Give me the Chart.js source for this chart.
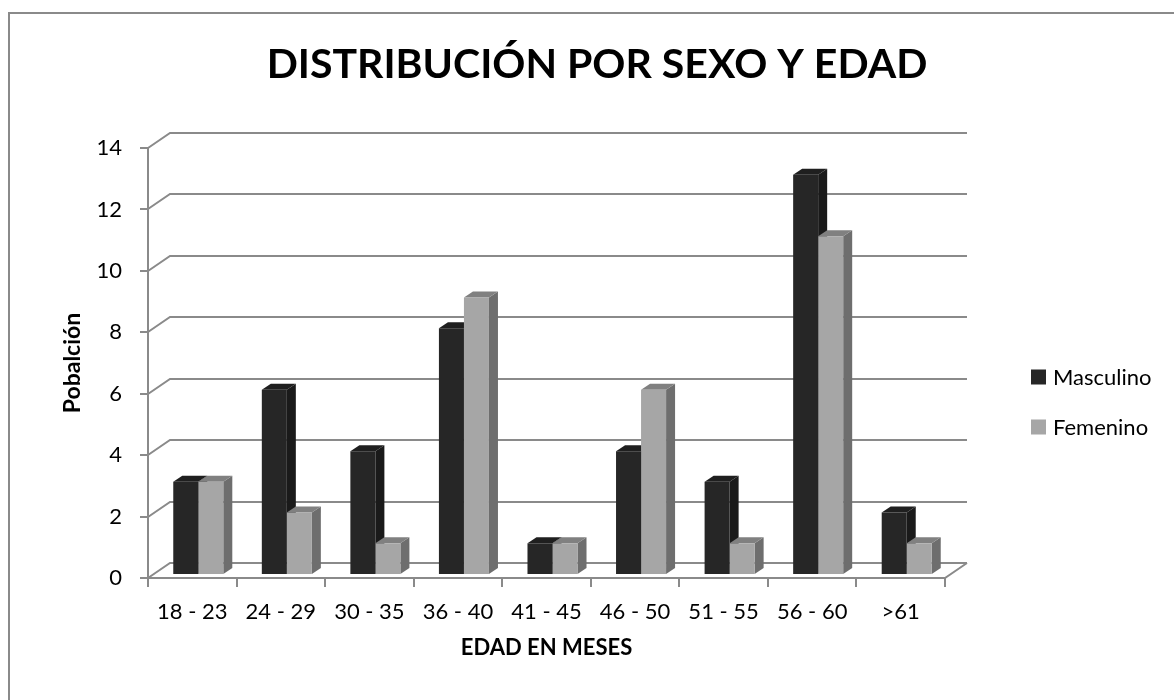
<!DOCTYPE html>
<html>
<head>
<meta charset="utf-8">
<script src="https://cdn.jsdelivr.net/npm/chart.js@4/dist/chart.umd.min.js"></script>
<style>
  html, body { margin: 0; padding: 0; background: #fff; }
  #wrap { width: 1174px; height: 700px; }
</style>
</head>
<body>
<div id="wrap"><canvas id="sexoChart" width="1174" height="700"></canvas></div>
<script>
const categories = ['18 - 23', '24 - 29', '30 - 35', '36 - 40', '41 - 45', '46 - 50', '51 - 55', '56 - 60', '>61'];
const masculino = [3, 6, 4, 8, 1, 4, 3, 13, 2];
const femenino = [3, 2, 1, 9, 1, 6, 1, 11, 1];
const seriesNames = ['Masculino', 'Femenino'];
const yMin = 0, yMax = 14, yStep = 2;

const chartTitle = 'DISTRIBUCIÓN POR SEXO Y EDAD';
const yTitle = 'Pobalción';
const xTitle = 'EDAD EN MESES';

const frontColors = ['#262626', '#a6a6a6'];
const sideColors = ['#1a1a1a', '#6e6e6e'];
const topColors = ['#1f1f1f', '#808080'];
const gridColor = '#8a8a8a';

// 3d look: back wall offset and bar depth
const wallDx = 22, wallDy = -15;
const barShiftX = 6, barShiftY = -4;
const barDx = 9, barDy = -6;

let threeD = {
    id: 'threeD',
    beforeDraw(chart) {
        let ctx = chart.ctx;
        ctx.save();
        ctx.strokeStyle = gridColor;
        ctx.lineWidth = 2;
        ctx.strokeRect(9, 13, 1300, 900);
        ctx.restore();
    },
    beforeDatasetsDraw(chart) {
        let ctx = chart.ctx;
        let area = chart.chartArea;
        let y = chart.scales.y;
        ctx.save();
        ctx.strokeStyle = gridColor;
        ctx.lineWidth = 2;
        ctx.lineCap = 'butt';
        ctx.beginPath();
        for (let v = yMin; v <= yMax; v += yStep) {
            let py = Math.round(y.getPixelForValue(v));
            // back wall line + diagonal on side
            ctx.moveTo(area.left, py);
            ctx.lineTo(area.left + wallDx, py + wallDy);
            ctx.lineTo(area.right + wallDx, py + wallDy);
            // tick mark
            ctx.moveTo(area.left - 8, py);
            ctx.lineTo(area.left, py);
        }
        // front y axis
        ctx.moveTo(area.left, area.top);
        ctx.lineTo(area.left, area.bottom);
        // floor
        ctx.moveTo(area.left, area.bottom);
        ctx.lineTo(area.right, area.bottom);
        ctx.lineTo(area.right + wallDx, area.bottom + wallDy);
        // category ticks
        let step = (area.right - area.left) / categories.length;
        for (let i = 0; i <= categories.length; i++) {
            let px = Math.round(area.left + i * step);
            ctx.moveTo(px, area.bottom);
            ctx.lineTo(px, area.bottom + 9);
        }
        ctx.stroke();

        // side and top faces of the bars, fronts come after
        chart.data.datasets.forEach((ds, di) => {
            let meta = chart.getDatasetMeta(di);
            meta.data.forEach(bar => {
                let p = bar.getProps(['x', 'y', 'base', 'width'], true);
                let l = p.x - p.width / 2 + barShiftX;
                let r = p.x + p.width / 2 + barShiftX;
                let t = p.y + barShiftY;
                let b = p.base + barShiftY;
                ctx.fillStyle = sideColors[di];
                ctx.beginPath();
                ctx.moveTo(r, t);
                ctx.lineTo(r + barDx, t + barDy);
                ctx.lineTo(r + barDx, b + barDy);
                ctx.lineTo(r, b);
                ctx.closePath();
                ctx.fill();
                ctx.fillStyle = topColors[di];
                ctx.beginPath();
                ctx.moveTo(l, t);
                ctx.lineTo(l + barDx, t + barDy);
                ctx.lineTo(r + barDx, t + barDy);
                ctx.lineTo(r, t);
                ctx.closePath();
                ctx.fill();
            });
        });
        ctx.restore();

        ctx.save();
        ctx.translate(barShiftX, barShiftY);
    },
    afterDatasetsDraw(chart) {
        chart.ctx.restore();
    },
    afterDraw(chart) {
        let ctx = chart.ctx;
        ctx.save();
        ctx.fillStyle = '#000';
        ctx.font = 'bold 41px Lato';
        ctx.textAlign = 'center';
        ctx.textBaseline = 'alphabetic';
        ctx.fillText(chartTitle, 597, 78);

        // legend
        ctx.font = '22px Lato';
        ctx.textAlign = 'left';
        ctx.textBaseline = 'middle';
        seriesNames.forEach((name, i) => {
            let cy = 377 + i * 50;
            ctx.fillStyle = frontColors[i];
            ctx.fillRect(1031, cy - 7.5, 15, 15);
            ctx.fillStyle = '#000';
            ctx.fillText(name, 1053, cy + 1);
        });
        ctx.restore();
    }
};

let ctx = document.getElementById('sexoChart').getContext('2d');

window.sexoBar = new Chart(ctx, {
    type: 'bar',
    data: {
        labels: categories,
        datasets: [
            {
                label: seriesNames[0],
                backgroundColor: frontColors[0],
                data: masculino
            },
            {
                label: seriesNames[1],
                backgroundColor: frontColors[1],
                data: femenino
            }
        ]
    },
    options: {
        responsive: false,
        animation: false,
        categoryPercentage: 0.565,
        barPercentage: 1.0,
        layout: { padding: { left: 50, top: 148, right: 229, bottom: 0 } },
        plugins: {
            legend: { display: false },
            title: { display: false },
            tooltip: { enabled: false }
        },
        scales: {
            x: {
                grid: { display: false, drawTicks: false },
                border: { display: false },
                ticks: { color: '#000', font: { family: 'Lato', size: 22 }, padding: 21, maxRotation: 0 },
                title: {
                    display: true,
                    text: xTitle,
                    color: '#000',
                    font: { family: 'Lato', size: 22, weight: 'bold' },
                    padding: { top: 0, bottom: 39 }
                },
                afterFit(s) { s.height = 122; }
            },
            y: {
                min: yMin,
                max: yMax,
                grid: { display: false, drawTicks: false },
                border: { display: false },
                ticks: { stepSize: yStep, color: '#000', font: { family: 'Lato', size: 22 }, padding: 26 },
                title: {
                    display: true,
                    text: yTitle,
                    color: '#000',
                    font: { family: 'Lato', size: 23, weight: 'bold' },
                    padding: { top: 9, bottom: 0 }
                },
                afterFit(s) { s.width = 98; }
            }
        }
    },
    plugins: [threeD]
});
</script>
</body>
</html>
